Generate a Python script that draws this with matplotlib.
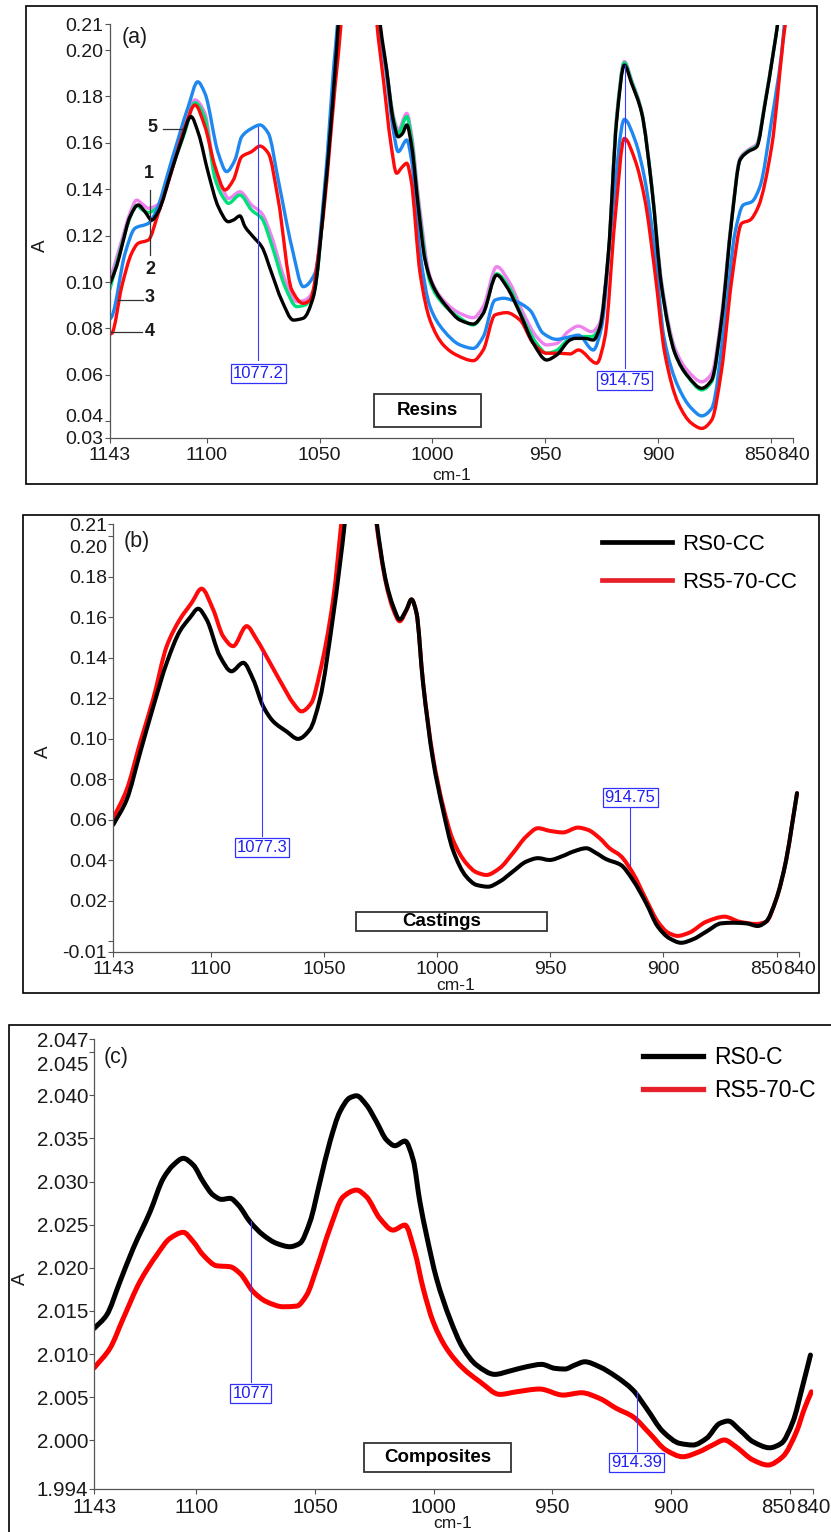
import numpy as np
import matplotlib
matplotlib.use("Agg")
import matplotlib.pyplot as plt
from matplotlib.patches import Rectangle, PathPatch
from matplotlib.path import Path
from matplotlib.lines import Line2D
from matplotlib.transforms import ScaledTranslation

plt.rcParams['font.family'] = ['Liberation Sans', 'DejaVu Sans']

# ---------------- (a) Resins ----------------
res1_x = [1143, 1137.8, 1134, 1131.2, 1128.5, 1126, 1121.6, 1115.6, 1110, 1105.3, 1101, 1096.4, 1092.5,
          1090.5, 1085.4, 1080.2, 1075.7, 1071.3, 1065.4, 1060.2, 1056.5, 1052.5, 1047.7, 1043.2, 1041.5,
          1038, 1033, 1027.7, 1024.2, 1020.5, 1017.4, 1015.2, 1011.4, 1009.2, 1006.3, 1001.1, 995.2, 987.8,
          981.9, 977.5, 971.5, 965.6, 959.7, 953.8, 949.4, 945, 940, 935.3, 929.4, 926, 922, 918.3, 914.9,
          911.7, 907.2, 902.8, 898.4, 892.5, 886.6, 880.6, 876.2, 871.8, 867.3, 863.6, 860, 856.2, 852.5,
          848.9, 846.4, 840]
res1_y = [0.1005, 0.118, 0.130, 0.1353, 0.1335, 0.1318, 0.1335, 0.150, 0.165, 0.1785, 0.173, 0.1469, 0.139,
          0.136, 0.1389, 0.1332, 0.1296, 0.1195, 0.1009, 0.0915, 0.0922, 0.097, 0.1395, 0.1925, 0.2165,
          0.27, 0.30, 0.27, 0.215, 0.1925, 0.172, 0.1655, 0.1727, 0.163, 0.137, 0.1023, 0.0922, 0.0865,
          0.0846, 0.0894, 0.1066, 0.0994, 0.0865, 0.0764, 0.0729, 0.0735, 0.0785, 0.081, 0.0786, 0.082,
          0.1124, 0.172, 0.195, 0.187, 0.1735, 0.142, 0.100, 0.0715, 0.0615, 0.057, 0.0605, 0.086, 0.128,
          0.1535, 0.157, 0.1595, 0.178, 0.199, 0.215, 0.27]

res2_x = res1_x
res2_y = [0.097, 0.116, 0.128, 0.133, 0.131, 0.130, 0.1325, 0.149, 0.164, 0.1773, 0.171, 0.1445, 0.136,
          0.1339, 0.1375, 0.131, 0.1274, 0.116, 0.098, 0.0894, 0.0901, 0.096, 0.139, 0.192, 0.216,
          0.27, 0.30, 0.27, 0.215, 0.192, 0.171, 0.164, 0.1713, 0.161, 0.134, 0.100, 0.0905, 0.0845,
          0.0815, 0.0865, 0.1035, 0.097, 0.084, 0.0735, 0.0693, 0.0705, 0.075, 0.0765, 0.0765, 0.080,
          0.112, 0.171, 0.1945, 0.1865, 0.173, 0.1415, 0.0985, 0.0695, 0.059, 0.0535, 0.057, 0.0835, 0.127,
          0.1528, 0.1565, 0.1588, 0.1775, 0.1988, 0.215, 0.27]

res3_x = [1143, 1142.2, 1136.3, 1131.9, 1126, 1123, 1115.6, 1108.3, 1104.1, 1100.9, 1095, 1091.3, 1087.6,
          1084.6, 1080.2, 1076.5, 1072.8, 1068.4, 1062.4, 1057.3, 1052.1, 1047.7, 1043.6, 1041.8, 1038.3,
          1033, 1027.5, 1024, 1020.5, 1017.4, 1015.2, 1011.4, 1009.2, 1005.5, 1001.1, 995.2, 987.8, 981.9,
          977.5, 972.3, 968.6, 962.7, 956.8, 950.9, 945, 939, 935.3, 928.7, 925, 920.5, 914.9, 910.2, 905.8,
          901.3, 897.4, 891, 885.1, 880.6, 876.2, 870.3, 865.9, 862.2, 858.4, 854.8, 849.6, 845.2, 843.6, 840]
res3_y = [0.084, 0.0851, 0.1124, 0.1232, 0.1253, 0.1296, 0.1526, 0.1756, 0.1863, 0.1813, 0.1555, 0.1476,
          0.1526, 0.1626, 0.1662, 0.1677, 0.1641, 0.144, 0.1152, 0.098, 0.1038, 0.1425, 0.195, 0.215, 0.27,
          0.30, 0.27, 0.215, 0.19, 0.1655, 0.1562, 0.1612, 0.152, 0.1124, 0.0894, 0.0793, 0.0729, 0.0714,
          0.0764, 0.0922, 0.093, 0.0915, 0.0879, 0.0779, 0.0753, 0.0764, 0.0771, 0.0707, 0.0807, 0.1267,
          0.1701, 0.1612, 0.144, 0.1124, 0.0764, 0.0548, 0.0455, 0.0423, 0.0455, 0.0836, 0.121, 0.1332,
          0.1346, 0.1411, 0.1698, 0.1986, 0.215, 0.245]

res4_x = [1143, 1142.2, 1137.8, 1133.4, 1130.5, 1126, 1121.6, 1115.6, 1109.7, 1105.3, 1100.9, 1096.4, 1092,
          1088.3, 1084.6, 1080.2, 1076.5, 1072.8, 1068.4, 1062.4, 1057.3, 1054.3, 1049.1, 1043.2, 1040.3,
          1036.8, 1033, 1028.5, 1025.0, 1021.5, 1018.5, 1015.9, 1013.5, 1011.4, 1009.5, 1005.5, 1001.1,
          995.2, 989.3, 981.9, 977.5, 972.3, 967.1, 961.2, 955.3, 949.4, 943.5, 939, 935.3, 927.2, 923.5,
          919.1, 914.9, 910.2, 905.8, 901.3, 897, 891, 885.1, 880.6, 876.2, 871.8, 867.3, 862.9, 859.2,
          855.5, 849.6, 843.7, 842.5, 840]
res4_y = [0.0775, 0.0779, 0.098, 0.1124, 0.1167, 0.1181, 0.1296, 0.148, 0.167, 0.1763, 0.167, 0.1497, 0.1397,
          0.144, 0.154, 0.1562, 0.1586, 0.1555, 0.1354, 0.0966, 0.0908, 0.0922, 0.1232, 0.1842, 0.214,
          0.27, 0.30, 0.27, 0.215, 0.185, 0.160, 0.1469, 0.1495, 0.1512, 0.144, 0.1038, 0.0836, 0.0729,
          0.0685, 0.0661, 0.0707, 0.0858, 0.0868, 0.0836, 0.0736, 0.0693, 0.0693, 0.069, 0.0707, 0.065,
          0.0764, 0.1267, 0.1619, 0.1526, 0.1354, 0.1038, 0.0693, 0.0477, 0.0391, 0.0369, 0.0405, 0.0621,
          0.1009, 0.1253, 0.1267, 0.1325, 0.1583, 0.21, 0.217, 0.24]

res5_x = [1143, 1140, 1137.8, 1134.1, 1130.5, 1127.5, 1124.5, 1121.6, 1115.6, 1111.2, 1107.1, 1103.8, 1099.4,
          1095, 1090.5, 1088.3, 1085.4, 1083.1, 1079.5, 1075.7, 1071.3, 1066.9, 1061.7, 1057.3, 1052.8,
          1047.7, 1043.2, 1041.5, 1038, 1033, 1027.1, 1023.6, 1020.3, 1017.4, 1015.2, 1013.3, 1011.4, 1009.2,
          1006.3, 1003.3, 999.6, 993.7, 987.8, 981.9, 977.5, 971.5, 967.1, 961.2, 955.3, 949.4, 945, 939,
          936.8, 932.4, 928.7, 925.7, 922, 918.3, 914.9, 911.7, 907.2, 902.8, 898.4, 892.5, 886.6, 880.6,
          876.2, 871.8, 867.3, 863.6, 860, 856.2, 852.5, 848.9, 846.4, 840]
res5_y = [0.0994, 0.107, 0.1152, 0.1282, 0.1332, 0.1303, 0.1267, 0.1303, 0.1483, 0.1612, 0.1713, 0.1641,
          0.1469, 0.1325, 0.126, 0.1267, 0.1285, 0.1238, 0.1195, 0.1152, 0.1038, 0.0922, 0.0836, 0.0844,
          0.0937, 0.1382, 0.1914, 0.2155, 0.27, 0.30, 0.27, 0.215, 0.1914, 0.1698, 0.1626, 0.164, 0.1677,
          0.1583, 0.1325, 0.1095, 0.098, 0.0894, 0.0836, 0.0819, 0.0865, 0.103, 0.098, 0.0865, 0.0736,
          0.0664, 0.0685, 0.075, 0.0757, 0.0757, 0.075, 0.0807, 0.1124, 0.1698, 0.1935, 0.1856, 0.1727,
          0.1411, 0.098, 0.0693, 0.0592, 0.0542, 0.0578, 0.0836, 0.1267, 0.1526, 0.1562, 0.1583, 0.177,
          0.1986, 0.215, 0.27]

# ---------------- (b) Castings ----------------
rs0cc_x = [1143, 1137.1, 1131.2, 1125.3, 1119.4, 1113.6, 1109.2, 1105.5, 1101.8, 1095.9, 1090.8, 1085.6,
           1081.2, 1076.8, 1072.4, 1066.5, 1061.4, 1056.2, 1051.8, 1045.9, 1040.4, 1037, 1033, 1030.5,
           1027.0, 1022.4, 1019.4, 1016.5, 1013.5, 1011.3, 1009.1, 1006.2, 1001.8, 997.4, 993, 987.1, 982.6,
           977.5, 972.4, 966.5, 960.6, 955.4, 950.3, 944.4, 940, 934.1, 929.7, 925.3, 918.9, 913.5, 907.6,
           902.5, 897.3, 892.2, 887, 881.1, 874.5, 869.4, 863.5, 858.4, 854.7, 850.3, 845.8, 843.1, 841]
rs0cc_y = [0.0575, 0.0698, 0.0929, 0.116, 0.1375, 0.1531, 0.1597, 0.1642, 0.1589, 0.1407, 0.1333, 0.1375,
           0.1292, 0.116, 0.1086, 0.1036, 0.0999, 0.1045, 0.1193, 0.1605, 0.210, 0.25, 0.27, 0.25,
           0.210, 0.177, 0.1655, 0.1589, 0.1638, 0.1688, 0.1622, 0.1276, 0.0896, 0.0649, 0.0451, 0.0319,
           0.0278, 0.0269, 0.0294, 0.0344, 0.0393, 0.041, 0.0401, 0.0421, 0.0442, 0.0459, 0.0435, 0.0405,
           0.0377, 0.0302, 0.0187, 0.0072, 0.0014, -0.0008, 0.0009, 0.0047, 0.0088, 0.0091, 0.0088, 0.0075,
           0.0096, 0.0204, 0.0401, 0.0583, 0.0731]

rs570cc_x = [1143, 1137.1, 1131.2, 1125.3, 1119.4, 1113.6, 1108.4, 1104, 1098.9, 1094.5, 1090.1, 1084.1,
             1079.7, 1073.8, 1068, 1063.6, 1059.9, 1055.5, 1051.8, 1045.9, 1042.0, 1038.5, 1033, 1030.7,
             1027.2, 1022.4, 1019.4, 1016.5, 1013.5, 1011.3, 1009.1, 1006.2, 1001.8, 997.4, 993, 987.1,
             982.6, 978.2, 972.4, 966.5, 960.6, 955.4, 950.3, 944.4, 937.8, 933.4, 928.2, 923.8, 918.9, 913.5,
             907.6, 902.5, 898, 893.7, 888.6, 881.1, 873, 866.4, 859, 854.7, 850.3, 845.8, 843.1, 841]
rs570cc_y = [0.0608, 0.0748, 0.0979, 0.120, 0.1457, 0.1589, 0.1671, 0.1741, 0.1638, 0.1506, 0.1457, 0.1556,
             0.149, 0.1375, 0.1259, 0.1177, 0.1135, 0.1177, 0.1325, 0.1688, 0.210, 0.25, 0.27, 0.25,
             0.210, 0.176, 0.164, 0.158, 0.1635, 0.1688, 0.1622, 0.128, 0.091, 0.067, 0.050, 0.0385, 0.034,
             0.0327, 0.036, 0.0435, 0.0517, 0.0558, 0.0545, 0.0537, 0.0561, 0.055, 0.0509, 0.0459, 0.0421,
             0.0336, 0.0204, 0.0096, 0.0042, 0.0026, 0.0042, 0.0096, 0.0121, 0.0096, 0.0085, 0.0096, 0.0204,
             0.0401, 0.0583, 0.0731]

# ---------------- (c) Composites ----------------
rs0c_x = [1143, 1137.8, 1132.2, 1126.6, 1119.5, 1113.9, 1109.7, 1105.5, 1101.3, 1097.1, 1092.9, 1089.3,
          1085.8, 1082.3, 1077.4, 1071.8, 1066.2, 1060.6, 1056.4, 1052.1, 1047.9, 1043.7, 1039.5, 1035.3,
          1032.5, 1028.3, 1024.1, 1019.8, 1016.3, 1012.1, 1008.6, 1005.8, 1003, 998.8, 993.2, 987.6, 981.9,
          974.2, 967.9, 960.9, 954.5, 948.9, 944.7, 940.5, 936.3, 930.1, 923, 916, 910.3, 903.3, 896.3, 890.7,
          885, 879.4, 875.9, 871, 865.4, 858.4, 853.5, 848.6, 844.4, 841.2]
rs0c_y = [2.01299, 2.01453, 2.01839, 2.02226, 2.0265, 2.03038, 2.03192, 2.0327, 2.03192, 2.02998, 2.02844,
          2.02794, 2.02806, 2.02728, 2.02535, 2.0238, 2.02284, 2.02245, 2.02284, 2.02535, 2.02998, 2.03462,
          2.0381, 2.03972, 2.03995, 2.03888, 2.03694, 2.03482, 2.03416, 2.0347, 2.0325, 2.02766, 2.0238,
          2.01878, 2.01414, 2.01067, 2.00873, 2.00765, 2.00804, 2.00853, 2.00881, 2.00835, 2.00827, 2.00873,
          2.00911, 2.00853, 2.00737, 2.00583, 2.00371, 2.001, 1.99965, 1.99946, 2.00023, 2.00197, 2.00224,
          2.0012, 1.99984, 1.99914, 1.99965, 2.00216, 2.00641, 2.00989]

rs570c_x = [1143, 1136.4, 1130.8, 1123.8, 1116.7, 1111.1, 1105.5, 1101.3, 1097.1, 1091.4, 1085.8, 1081.6,
            1076, 1070.4, 1063.4, 1057.7, 1053.5, 1049.3, 1043.7, 1038.1, 1032.5, 1028.3, 1022.7, 1017.1,
            1012.1, 1008, 1004.4, 1000.2, 994.6, 987.6, 980.5, 972.1, 965.1, 955.3, 945.4, 937.7, 930.1, 923,
            916, 909, 902.1, 895, 888.1, 882.4, 877.5, 872.6, 865.4, 859.1, 852.9, 847.1, 843.7, 840.8]
rs570c_y = [2.00842, 2.01067, 2.01414, 2.01839, 2.02148, 2.02342, 2.02412, 2.02303, 2.02148, 2.02024,
            2.02013, 2.01936, 2.01723, 2.01607, 2.01549, 2.01557, 2.01685, 2.01994, 2.02458, 2.02824,
            2.02902, 2.02824, 2.02574, 2.02438, 2.02496, 2.0219, 2.01762, 2.01375, 2.01067, 2.00835, 2.0068,
            2.00533, 2.00563, 2.00595, 2.00525, 2.00552, 2.00487, 2.00371, 2.00274, 2.00081, 1.99888, 1.9981,
            1.99868, 1.99946, 2.00004, 1.99926, 1.99772, 1.99714, 1.9981, 2.001, 2.00371, 2.00563]

x_ticks = [1143, 1100, 1050, 1000, 950, 900, 850, 840]
x_tick_labels = ['1143', '1100', '1050', '1000', '950', '900', '850', '840']

W, H = 831, 1532
fig = plt.figure(figsize=(W / 100, H / 100), dpi=100)

TXT = '#1a1a1a'
SPINE = '#555555'


def fig_rect(l, t, r, b):
    return [l / W, 1 - b / H, (r - l) / W, (b - t) / H]


def frame(l, t, r, b, lw=1.2, ec='black'):
    fig.add_artist(Rectangle((l / W, 1 - b / H), (r - l) / W, (b - t) / H,
                             transform=fig.transFigure, fill=False, ec=ec, lw=lw))


def ftext(px, py, s, **kw):
    fig.text(px / W, 1 - py / H, s, **kw)


def shift(label, dx_px, dy_px):
    label.set_transform(label.get_transform() + ScaledTranslation(dx_px / 100, dy_px / 100, fig.dpi_scale_trans))


def spectrum(ax, xs, ys, color, lw):
    """Draw a spectrum as a smooth monotone cubic (Hermite/Bezier) path through its points."""
    x = np.asarray(xs, float)
    y = np.asarray(ys, float)
    h = np.diff(x)
    d = np.diff(y) / h
    m = np.zeros_like(y)
    for i in range(1, len(x) - 1):
        if d[i - 1] * d[i] > 0:
            w1 = 2 * h[i] + h[i - 1]
            w2 = h[i] + 2 * h[i - 1]
            m[i] = (w1 + w2) / (w1 / d[i - 1] + w2 / d[i])
    m[0], m[-1] = d[0], d[-1]
    verts = [(x[0], y[0])]
    codes = [Path.MOVETO]
    for i in range(len(x) - 1):
        verts += [(x[i] + h[i] / 3, y[i] + m[i] * h[i] / 3),
                  (x[i + 1] - h[i] / 3, y[i + 1] - m[i + 1] * h[i] / 3),
                  (x[i + 1], y[i + 1])]
        codes += [Path.CURVE4] * 3
    ax.add_patch(PathPatch(Path(verts, codes), fill=False, ec=color, lw=lw,
                           joinstyle='round', capstyle='round'))


def setup_axes(rect, ylim, yticks, ylabels, fs):
    ax = fig.add_axes(fig_rect(*rect))
    ax.set_facecolor('none')
    ax.set_xlim(1143, 840)
    ax.set_ylim(*ylim)
    for s in ('top', 'right'):
        ax.spines[s].set_visible(False)
    for s in ('left', 'bottom'):
        ax.spines[s].set_color(SPINE)
        ax.spines[s].set_linewidth(0.9)
    ax.set_xticks(x_ticks, x_tick_labels)
    ax.set_yticks(yticks, ylabels)
    ax.tick_params(axis='y', length=3.5, width=0.8, color=SPINE, pad=1, labelsize=fs, labelcolor=TXT)
    ax.tick_params(axis='x', length=3.5, width=0.8, color=SPINE, pad=3, labelsize=fs, labelcolor=TXT)
    xl = ax.get_xticklabels()
    xl[6].set_ha('right')
    shift(xl[6], 6, 0)
    return ax


def value_mark(ax, x, y_from, y_to, y_text, text, fs=12):
    ax.plot([x, x], [y_from, y_to], color='#3b3bff', lw=0.8, zorder=6)
    ax.text(x, y_text, text, ha='center', va='center', fontsize=fs, color='#2020f0', zorder=7,
            bbox=dict(boxstyle='square,pad=0.12', fc='white', ec='#3030ff', lw=0.9))


# ---- panel (a)
frame(26, 6, 816.7, 484)
ya_ticks = [0.0329, 0.04, 0.06, 0.08, 0.10, 0.12, 0.14, 0.16, 0.18, 0.20, 0.211]
ya_labels = ['0.03', '0.04', '0.06', '0.08', '0.10', '0.12', '0.14', '0.16', '0.18', '0.20', '0.21']
axa = setup_axes((110, 24.5, 793.3, 437.7), (0.0329, 0.211), ya_ticks, ya_labels, 14)
shift(axa.get_yticklabels()[1], 0, 6)
lw_a = 2.4
spectrum(axa, res1_x, res1_y, '#ee82ee', lw_a)
spectrum(axa, res2_x, res2_y, '#00e07a', lw_a)
spectrum(axa, res3_x, res3_y, '#1e88f0', lw_a)
spectrum(axa, res4_x, res4_y, '#ff0a0a', lw_a)
spectrum(axa, res5_x, res5_y, 'black', lw_a)
value_mark(axa, 1077.2, 0.167, 0.0664, 0.0607, '1077.2')
value_mark(axa, 914.75, 0.1935, 0.0628, 0.0576, '914.75')
ftext(135, 38, '(a)', fontsize=15.5, ha='center', va='center', color=TXT)
ftext(40, 246, 'A', fontsize=13.5, rotation=90, ha='center', va='center', color=TXT)
ftext(452, 475, 'cm-1', fontsize=12.5, ha='center', va='center', color=TXT)
frame(374, 394, 481, 426.5, lw=1.3, ec='#333333')
ftext(427, 410.5, 'Resins', fontsize=13.5, fontweight='bold', ha='center', va='center', color='black')
# curve numbering
for s, px, py in [('1', 149, 173), ('2', 150, 270), ('3', 150, 298), ('4', 150, 331), ('5', 152, 127)]:
    ftext(px, py, s, fontsize=13, fontweight='bold', ha='center', va='center', color=TXT)
for (x0, y0, x1, y1) in [(150, 190, 150, 255), (118, 300, 143, 300), (111, 331.5, 142, 331.5),
                         (163, 128.5, 182, 128.5)]:
    fig.add_artist(Line2D([x0 / W, x1 / W], [1 - y0 / H, 1 - y1 / H], transform=fig.transFigure,
                          color='#333333', lw=0.9))

# ---- panel (b)
frame(23, 515, 819.3, 993.3)
yb_ticks = [-0.0052, 0.0, 0.02, 0.04, 0.06, 0.08, 0.10, 0.12, 0.14, 0.16, 0.18, 0.20, 0.2059]
yb_labels = ['-0.01', '', '0.02', '0.04', '0.06', '0.08', '0.10', '0.12', '0.14', '0.16', '0.18', '0.20', '0.21']
axb = setup_axes((113.3, 524.3, 799.3, 951.7), (-0.0052, 0.2059), yb_ticks, yb_labels, 14)
shift(axb.get_yticklabels()[11], 0, -10)
lw_b = 2.9
spectrum(axb, rs570cc_x, rs570cc_y, '#ff0a0a', lw_b)
spectrum(axb, rs0cc_x, rs0cc_y, 'black', lw_b)
value_mark(axb, 1077.3, 0.143, 0.0517, 0.0461, '1077.3')
value_mark(axb, 914.75, 0.0377, 0.0657, 0.0712, '914.75')
axb.legend(handles=[Line2D([], [], color='black', lw=3.4), Line2D([], [], color='#e8202a', lw=3.4)],
           labels=['RS0-CC', 'RS5-70-CC'], loc='upper left', frameon=False, fontsize=16,
           bbox_to_anchor=(601.7 / W, 1 - 534 / H), bbox_transform=fig.transFigure,
           borderpad=0, borderaxespad=0, handlelength=3.15, handletextpad=0.45, labelspacing=0.75)
ftext(137, 541, '(b)', fontsize=15.5, ha='center', va='center', color=TXT)
ftext(43, 752, 'A', fontsize=13.5, rotation=90, ha='center', va='center', color=TXT)
ftext(456, 985, 'cm-1', fontsize=12.5, ha='center', va='center', color=TXT)
frame(356, 912.3, 547, 931, lw=1.3, ec='#333333')
ftext(442, 921, 'Castings', fontsize=13.5, fontweight='bold', ha='center', va='center', color='black')

# ---- panel (c)
frame(9.3, 1025, 840, 1545)
yc_ticks = [1.99436, 2.000, 2.005, 2.010, 2.015, 2.020, 2.025, 2.030, 2.035, 2.040, 2.045, 2.0465]
yc_labels = ['1.994', '2.000', '2.005', '2.010', '2.015', '2.020', '2.025', '2.030', '2.035', '2.040',
             '2.045', '2.047']
axc = setup_axes((94.3, 1039.3, 813.3, 1489), (1.99436, 2.0465), yc_ticks, yc_labels, 14.8)
shift(axc.get_yticklabels()[10], 0, -11)
lw_c = 3.6
spectrum(axc, rs0c_x, rs0c_y, 'black', lw_c)
spectrum(axc, rs570c_x, rs570c_y, '#ff0000', lw_c)
value_mark(axc, 1077, 2.0254, 2.00679, 2.00545, '1077')
value_mark(axc, 914.39, 2.00564, 1.99876, 1.9974, '914.39')
axc.legend(handles=[Line2D([], [], color='black', lw=3.8), Line2D([], [], color='#e8202a', lw=3.8)],
           labels=['RS0-C', 'RS5-70-C'], loc='upper left', frameon=False, fontsize=16.5,
           bbox_to_anchor=(643 / W, 1 - 1046 / H), bbox_transform=fig.transFigure,
           borderpad=0, borderaxespad=0, handlelength=2.62, handletextpad=0.5, labelspacing=0.42)
ftext(116, 1057, '(c)', fontsize=15.5, ha='center', va='center', color=TXT)
ftext(20, 1279, 'A', fontsize=13.5, rotation=90, ha='center', va='center', color=TXT)
ftext(453, 1524, 'cm-1', fontsize=12.5, ha='center', va='center', color=TXT)
frame(364.3, 1443.3, 510.7, 1472.3, lw=1.3, ec='#333333')
ftext(438, 1458, 'Composites', fontsize=13.5, fontweight='bold', ha='center', va='center', color='black')

fig.savefig('out.png', dpi=100)
